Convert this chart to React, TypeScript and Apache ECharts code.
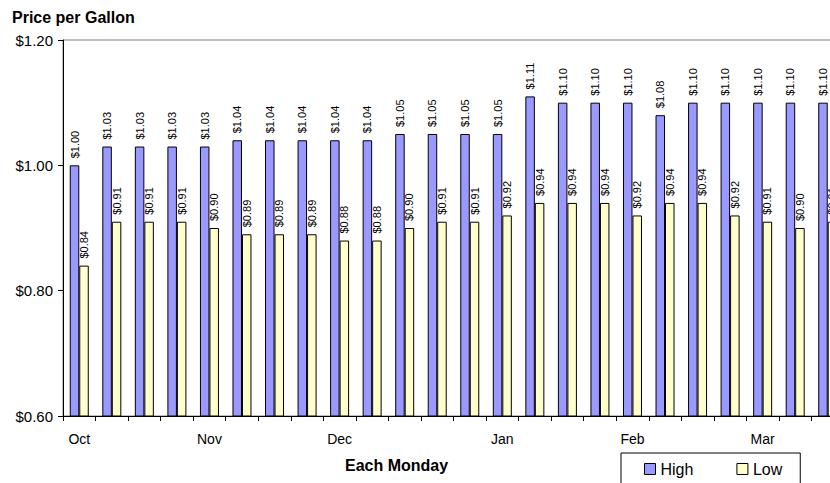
import React, { useEffect, useRef } from "react";
import * as echarts from "echarts";

const weeks = ["Oct", "", "", "", "Nov", "", "", "", "Dec", "", "", "", "", "Jan", "", "", "", "Feb", "", "", "", "Mar", "", ""];
const highPrices = [1.0, 1.03, 1.03, 1.03, 1.03, 1.04, 1.04, 1.04, 1.04, 1.04, 1.05, 1.05, 1.05, 1.05, 1.11, 1.1, 1.1, 1.1, 1.08, 1.1, 1.1, 1.1, 1.1, 1.1];
const lowPrices = [0.84, 0.91, 0.91, 0.91, 0.9, 0.89, 0.89, 0.89, 0.88, 0.88, 0.9, 0.91, 0.91, 0.92, 0.94, 0.94, 0.94, 0.92, 0.94, 0.94, 0.92, 0.91, 0.9, 0.91];

const FONT = 'Arial, "Liberation Sans", sans-serif';

export default function App() {
  const ref = useRef<HTMLDivElement>(null);

  useEffect(() => {
    if (!ref.current) return;
    const chart = echarts.init(ref.current, null, { renderer: "svg" });
    const barLabel = {
      show: true,
      position: "top" as const,
      rotate: 90,
      align: "left" as const,
      verticalAlign: "middle" as const,
      distance: 7,
      fontSize: 11,
      fontFamily: FONT,
      color: "#000",
      formatter: (p: any) => "$" + Number(p.value).toFixed(2),
    };
    chart.setOption({
      animation: false,
      backgroundColor: "#fff",
      textStyle: { fontFamily: FONT },
      title: {
        text: "Price per Gallon",
        left: 12,
        top: 9,
        padding: 0,
        textStyle: { fontSize: 16, fontWeight: "bold", color: "#000", fontFamily: FONT },
      },
      legend: {
        left: 621,
        top: 453,
        padding: [6, 18, 24, 23],
        itemGap: 43,
        itemWidth: 11,
        itemHeight: 11,
        icon: "rect",
        borderColor: "#000",
        borderWidth: 1,
        textStyle: { fontSize: 16, color: "#000", fontFamily: FONT, lineHeight: 20 },
        itemStyle: { borderColor: "#000", borderWidth: 1 },
        data: ["High", "Low"],
      },
      graphic: [
        {
          type: "text",
          left: 345,
          top: 457,
          style: {
            text: "Each Monday",
            fontSize: 16,
            fontWeight: "bold",
            fontFamily: FONT,
            fill: "#000",
          },
        },
      ],
      grid: {
        left: 63,
        top: 40,
        bottom: 67,
        right: 3,
        show: true,
        borderColor: "#808080",
        borderWidth: 1,
      },
      xAxis: {
        type: "category",
        data: weeks,
        boundaryGap: true,
        axisLine: { show: true, lineStyle: { color: "#000", width: 1 } },
        axisTick: { show: true, interval: 0, length: 5, lineStyle: { color: "#000" } },
        axisLabel: { interval: 0, fontSize: 14, color: "#000", margin: 16, fontFamily: FONT },
        splitLine: { show: false },
      },
      yAxis: {
        type: "value",
        min: 0.6,
        max: 1.2,
        interval: 0.2,
        axisLine: { show: true, lineStyle: { color: "#000", width: 1 } },
        axisTick: { show: true, length: 5, lineStyle: { color: "#000" } },
        axisLabel: {
          fontSize: 15,
          color: "#000",
          margin: 10,
          fontFamily: FONT,
          formatter: (v: number) => "$" + v.toFixed(2),
        },
        splitLine: { show: false },
      },
      series: [
        {
          name: "High",
          type: "bar",
          data: highPrices,
          barWidth: 9.5,
          barGap: "0%",
          itemStyle: { color: "#9999FF", borderColor: "#000", borderWidth: 1 },
          label: barLabel,
        },
        {
          name: "Low",
          type: "bar",
          data: lowPrices,
          barWidth: 9.5,
          barGap: "0%",
          itemStyle: { color: "#FFFFCC", borderColor: "#000", borderWidth: 1 },
          label: barLabel,
        },
      ],
    });
    return () => chart.dispose();
  }, []);

  return (
    <div
      style={{ position: "fixed", left: 0, top: 0, width: 830, height: 483, overflow: "hidden", background: "#fff" }}
    >
      <div ref={ref} style={{ width: 847, height: 483 }} />
    </div>
  );
}
